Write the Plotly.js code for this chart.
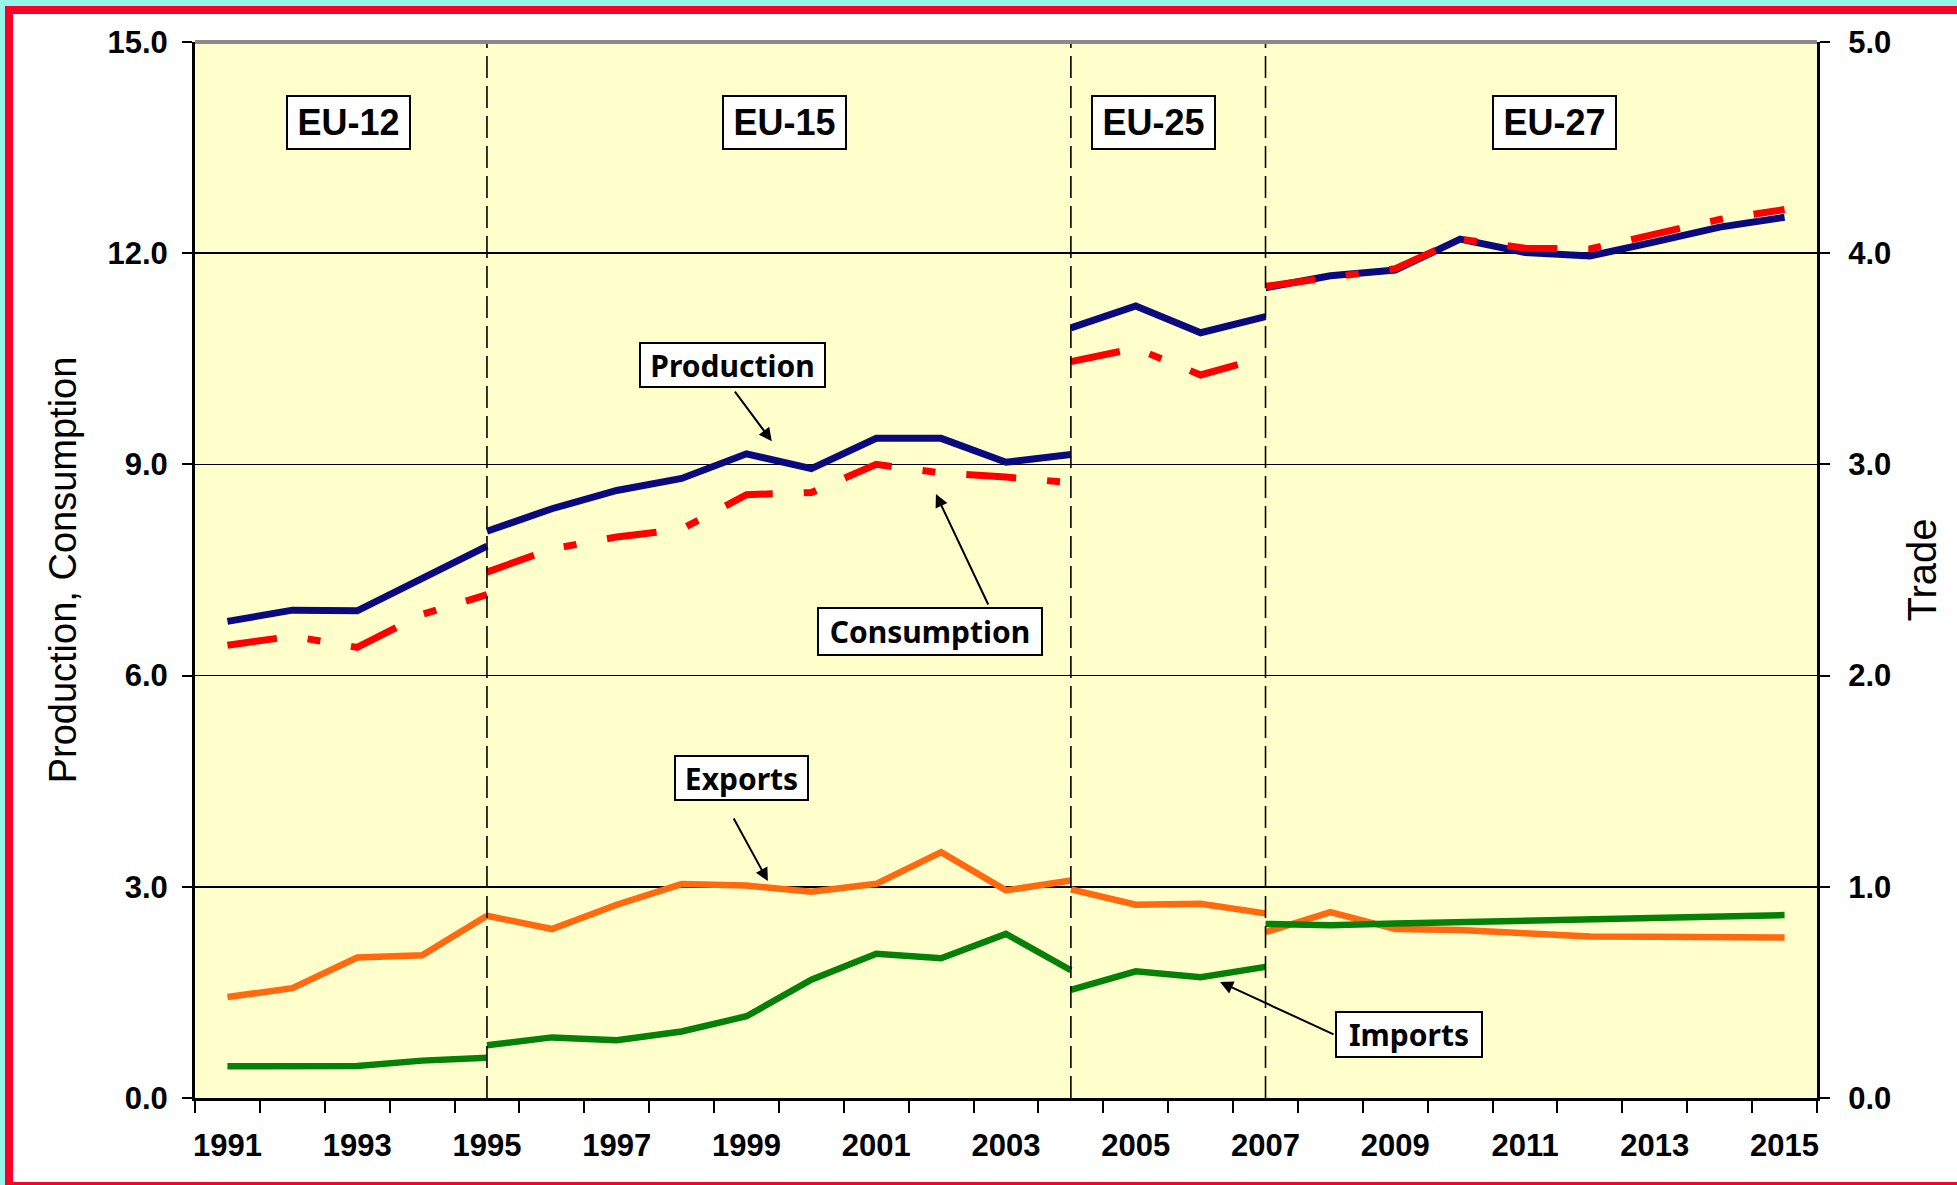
<!DOCTYPE html>
<html>
<head>
<meta charset="utf-8">
<script src="https://cdn.plot.ly/plotly-3.0.1.min.js"></script>
<style>
  html, body { margin: 0; padding: 0; background: #ffffff; }
  #wrap { position: relative; width: 1957px; height: 1185px; overflow: hidden; }
  #chart { position: absolute; left: 0; top: 0; width: 1957px; height: 1185px; }
  .bd { position: absolute; pointer-events: none; }
</style>
</head>
<body>
<div id="wrap">
  <div id="chart"></div>
  <div class="bd" style="left:0;top:0;width:1957px;height:6px;background:#96F4E8;"></div>
  <div class="bd" style="left:0;top:0;width:5px;height:1185px;background:#96F4E8;"></div>
  <div class="bd" style="left:5px;top:6px;width:1952px;height:8px;background:#FA0028;"></div>
  <div class="bd" style="left:5px;top:6px;width:8px;height:1179px;background:#FA0028;"></div>
  <div class="bd" style="left:5px;top:1182px;width:1952px;height:3px;background:#FA0028;"></div>
</div>
<script>
// ---- Data ----
const yearsEU12 = [1991, 1992, 1993, 1994, 1995];
const yearsEU15 = [1995, 1996, 1997, 1998, 1999, 2000, 2001, 2002, 2003, 2004];
const yearsEU25 = [2004, 2005, 2006, 2007];
const yearsEU27 = [2007, 2008, 2009, 2010, 2011, 2012, 2013, 2014, 2015];

// Production (left axis)
const productionEU12 = [6.77, 6.93, 6.92, 7.38, 7.84];
const productionEU15 = [8.05, 8.37, 8.63, 8.80, 9.15, 8.94, 9.37, 9.37, 9.03, 9.14];
const productionEU25 = [10.94, 11.25, 10.87, 11.10];
const productionEU27 = [11.51, 11.68, 11.76, 12.20, 12.01, 11.96, 12.16, 12.37, 12.51];

// Consumption (left axis)
const consumptionEU12 = [6.43, 6.56, 6.40, 6.87, 7.15];
const consumptionEU15 = [7.47, 7.80, 7.97, 8.08, 8.57, 8.60, 9.00, 8.88, 8.82, 8.74];
const consumptionEU25 = [10.46, 10.65, 10.27, 10.53];
const consumptionEU27 = [11.53, 11.65, 11.78, 12.20, 12.07, 12.06, 12.26, 12.48, 12.62];

// Exports (right axis, Trade)
const exportsEU12 = [0.478, 0.52, 0.665, 0.676, 0.863];
const exportsEU15 = [0.863, 0.80, 0.915, 1.013, 1.006, 0.977, 1.014, 1.164, 0.983, 1.03];
const exportsEU25 = [0.988, 0.915, 0.92, 0.874];
const exportsEU27 = [0.785, 0.88, 0.80, 0.795, 0.78, 0.765, 0.763, 0.762, 0.76];

// Imports (right axis, Trade)
const importsEU12 = [0.15, 0.154, 0.152, 0.177, 0.191];
const importsEU15 = [0.25, 0.287, 0.274, 0.315, 0.387, 0.56, 0.683, 0.662, 0.777, 0.605];
const importsEU25 = [0.512, 0.60, 0.572, 0.621];
const importsEU27 = [0.824, 0.818, 0.826, 0.832, 0.838, 0.845, 0.852, 0.859, 0.866];

// Enlargement boundaries and period labels
const enlargementYears = [1995, 2004, 2007];
const periodLabels = ['EU-12', 'EU-15', 'EU-25', 'EU-27'];

// Axis ticks
const yearTickVals = [1991, 1993, 1995, 1997, 1999, 2001, 2003, 2005, 2007, 2009, 2011, 2013, 2015];
const yearTickText = ['1991', '1993', '1995', '1997', '1999', '2001', '2003', '2005', '2007', '2009', '2011', '2013', '2015'];
const leftTicks = [0, 3, 6, 9, 12, 15];
const rightTicks = [0, 1, 2, 3, 4, 5];

// ---- Traces ----
const segYears = [yearsEU12, yearsEU15, yearsEU25, yearsEU27];
const series = [
  { name: 'Production', segs: [productionEU12, productionEU15, productionEU25, productionEU27], axis: 'y',
    line: { color: '#0A0A7E', width: 7 } },
  { name: 'Consumption', segs: [consumptionEU12, consumptionEU15, consumptionEU25, consumptionEU27], axis: 'y',
    line: { color: '#FF0000', width: 7, dash: '50px,31px,13px,31px' } },
  { name: 'Exports', segs: [exportsEU12, exportsEU15, exportsEU25, exportsEU27], axis: 'y2',
    line: { color: '#FF6A10', width: 6.5 } },
  { name: 'Imports', segs: [importsEU12, importsEU15, importsEU25, importsEU27], axis: 'y2',
    line: { color: '#078007', width: 6.5 } }
];
const traces = [];
series.forEach(s => {
  s.segs.forEach((vals, i) => {
    traces.push({
      type: 'scatter', mode: 'lines', name: s.name + ' ' + periodLabels[i],
      x: segYears[i], y: vals, yaxis: s.axis, line: s.line,
      showlegend: false, hoverinfo: 'x+y+name'
    });
  });
});

// ---- Layout ----
const tickFont = { family: 'Liberation Sans, Arial, sans-serif', size: 31, color: '#000', weight: 'bold' };
const boxFont = { family: 'Noto Sans, sans-serif', size: 30, color: '#000', weight: 'bold' };
const euFont = { family: 'Liberation Sans, Arial, sans-serif', size: 36, color: '#000', weight: 'bold' };

const shapes = enlargementYears.map(yr => ({
  type: 'line', xref: 'x', yref: 'paper', x0: yr, x1: yr, y0: 0, y1: 1,
  line: { color: '#000', width: 1.6, dash: '22px,8px' }, layer: 'above'
}));
shapes.push({ type: 'line', xref: 'paper', yref: 'paper', x0: 0, x1: 1, y0: 1, y1: 1,
  line: { color: '#8a8a8a', width: 4 }, layer: 'above' });

const periodX = [1992.86, 1999.58, 2005.27, 2011.45];
const annotations = periodLabels.map((t, i) => ({
  text: t, x: periodX[i], y: 13.85, xref: 'x', yref: 'y', showarrow: false,
  font: euFont, bgcolor: '#fff', bordercolor: '#000', borderwidth: 2, borderpad: 0,
  width: 121, height: 51
}));

function labelBox(text, x, y, yref, w, h) {
  return { text: text, x: x, y: y, xref: 'x', yref: yref, showarrow: false, font: boxFont,
    bgcolor: '#fff', bordercolor: '#000', borderwidth: 2, borderpad: 0, width: w, height: h };
}
function arrow(x, y, yref, ax, ay) {
  return { text: '', x: x, y: y, xref: 'x', yref: yref, ax: ax, ay: ay, showarrow: true,
    arrowhead: 2, arrowsize: 1.3, arrowwidth: 2, arrowcolor: '#000', standoff: 0, startstandoff: 0 };
}
annotations.push(labelBox('Production', 1998.78, 10.41, 'y', 183, 42));
annotations.push(arrow(1999.39, 9.33, 'y', -38, -51));
annotations.push(labelBox('Consumption', 2001.83, 6.63, 'y', 222, 45));
annotations.push(arrow(2001.92, 8.58, 'y', 53, 112));
annotations.push(labelBox('Exports', 1998.92, 4.545, 'y', 131, 42));
annotations.push(arrow(1999.33, 1.027, 'y2', -35, -64));
annotations.push(labelBox('Imports', 2009.21, 0.895, 'y', 144, 43));
annotations.push(arrow(2006.30, 0.549, 'y2', 115, 53));

const layout = {
  width: 1957, height: 1185,
  margin: { l: 195, r: 140, t: 42, b: 87, pad: 0 },
  paper_bgcolor: '#ffffff', plot_bgcolor: '#FFFFCC',
  showlegend: false,
  xaxis: {
    range: [1990.5, 2015.5], tickmode: 'array', tickvals: yearTickVals, ticktext: yearTickText,
    ticks: '', tickfont: tickFont, ticklabelstandoff: 18,
    showgrid: false, zeroline: false, showline: true, linecolor: '#000', linewidth: 3,
    minor: { tickmode: 'linear', tick0: 1990.5, dtick: 1, ticks: 'outside', ticklen: 12, tickwidth: 2, tickcolor: '#000', showgrid: false }
  },
  yaxis: {
    range: [0, 15], tickmode: 'array', tickvals: leftTicks, tickformat: '.1f',
    ticks: 'outside', ticklen: 10, tickwidth: 2, tickcolor: '#000', tickfont: tickFont, ticklabelstandoff: 8,
    showgrid: true, gridcolor: '#000', gridwidth: 1.6, zeroline: false,
    showline: true, linecolor: '#000', linewidth: 3,
    title: { text: 'Production, Consumption', standoff: 20,
      font: { family: 'Liberation Sans, Arial, sans-serif', size: 38, color: '#000' } }
  },
  yaxis2: {
    overlaying: 'y', side: 'right', range: [0, 5], tickmode: 'array', tickvals: rightTicks, tickformat: '.1f',
    ticks: 'outside', ticklen: 10, tickwidth: 2, tickcolor: '#000', tickfont: tickFont, ticklabelstandoff: 12,
    showgrid: false, zeroline: false, showline: true, linecolor: '#000', linewidth: 3,
    title: { text: 'Trade', standoff: 18,
      font: { family: 'Liberation Sans, Arial, sans-serif', size: 40, color: '#000' } }
  },
  shapes: shapes,
  annotations: annotations
};

Plotly.newPlot('chart', traces, layout, { displayModeBar: false, staticPlot: true });
</script>
</body>
</html>
